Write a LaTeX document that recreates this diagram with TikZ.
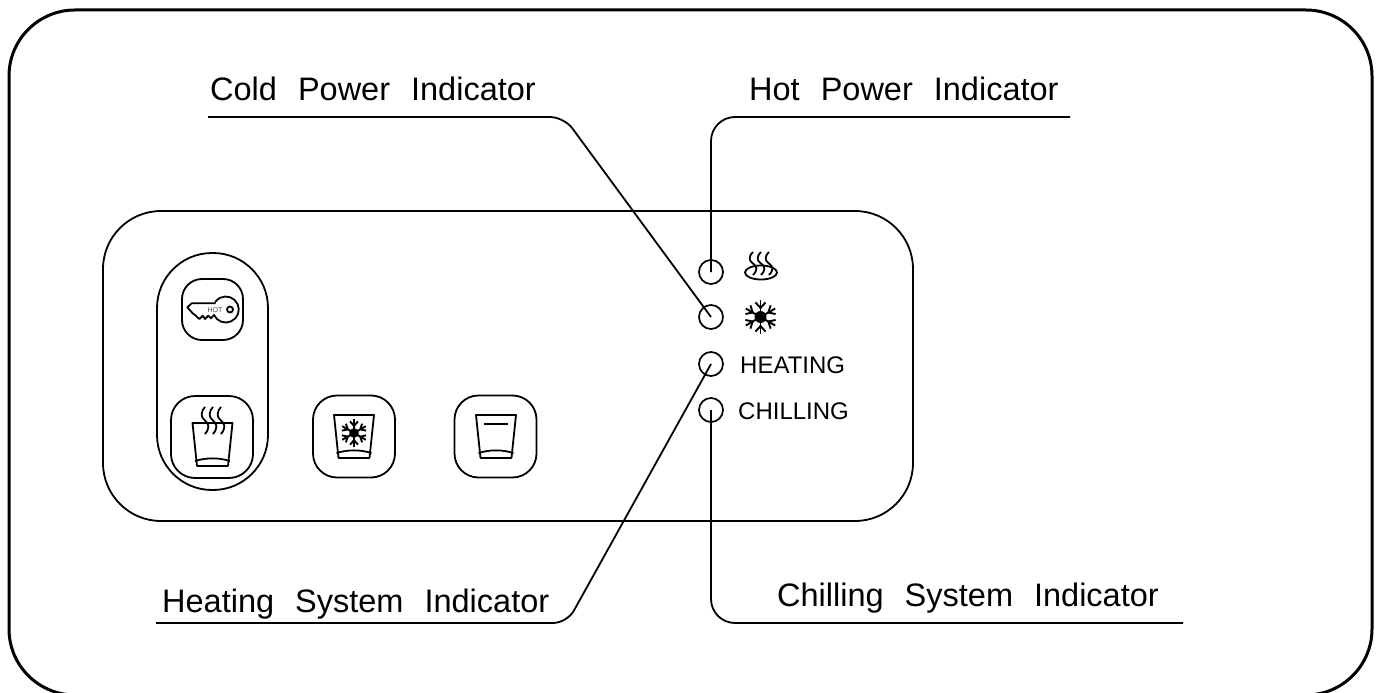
\documentclass[tikz,border=0pt]{standalone}
\usepackage{fontspec}
\setmainfont{Liberation Sans}
\usepackage{tikz}

% Wide gap between the words of a label
\newcommand{\wgap}{\hspace{21pt}}
% Steam wave: x, y of the top, height
\newcommand{\steamline}[3]{
    \draw[thinstroke] (#1,#2) .. controls ({#1-5},{#2+0.22*#3}) and ({#1-4},{#2+0.38*#3}) .. ({#1},{#2+0.5*#3})
        .. controls ({#1+4},{#2+0.62*#3}) and ({#1+5},{#2+0.78*#3}) .. ({#1},{#2+#3});
}
% Glass: centre x, top y, bottom y
\newcommand{\glassicon}[3]{
    \draw[thinstroke] ({#1-20},#2) -- ({#1+20},#2) -- ({#1+15.5},#3) -- ({#1-15.5},#3) -- cycle;
    \draw[thinstroke] ({#1-17.5},{#3-5}) .. controls ({#1-6},{#3-8.5}) and ({#1+6},{#3-8.5}) .. ({#1+17.5},{#3-5});
}
% Snowflake: centre x, centre y, scale
\newcommand{\flakeicon}[3]{
    \begin{scope}[shift={(#1,#2)},scale=#3]
        \fill (0,0) circle (6);
        \foreach \ang in {30,90,...,330} {
            \draw[flakestroke] (0,0) -- (\ang:17);
            \draw[flakestroke] (\ang:9) -- ++(\ang+42:7.5);
            \draw[flakestroke] (\ang:9) -- ++(\ang-42:7.5);
        }
    \end{scope}
}

\begin{document}
\begin{tikzpicture}[x=1pt,y=-1pt,line join=round,
    stroke/.style={line width=1.8pt},
    thinstroke/.style={line width=1.8pt},
    flakestroke/.style={line width=1.9pt},
    led/.style={circle,draw,line width=1.7pt,minimum size=24pt,inner sep=0pt},
    button/.style={draw,line width=1.8pt,rounded corners=24pt,minimum size=82pt,inner sep=0pt},
    bigtext/.style={anchor=base west,inner sep=0pt,font=\fontsize{32.5}{38}\selectfont},
    ledtext/.style={anchor=base west,inner sep=0pt,font=\fontsize{24}{28}\selectfont}]
    \clip[use as bounding box] (0,0) rectangle (1379,693);

    % Frame and panel
    \node[draw,line width=3pt,rounded corners=66pt,minimum width=1363pt,minimum height=685pt,inner sep=0pt] (frame) at (690.5,352.5) {};
    \node[draw,stroke,rounded corners=58pt,minimum width=810pt,minimum height=310pt,inner sep=0pt] (panel) at (508,366) {};
    \node[draw,stroke,rounded corners=55pt,minimum width=111pt,minimum height=237pt,inner sep=0pt] (group) at (212.5,371.5) {};

    % Buttons
    \node[button,minimum size=61pt,rounded corners=20pt] (keybtn) at (212.5,309.5) {};
    \node[button] (hotbtn) at (212,437) {};
    \node[button] (coldbtn) at (354,436.5) {};
    \node[button] (waterbtn) at (495.5,436.5) {};

    % Key
    \draw[thinstroke] (215.7,303.3) -- (191.7,303.3) -- (187.3,307.3) -- (192.7,313.3) -- (195,315) -- (199.3,319)
        -- (202.7,315.7) -- (205,319) -- (208.3,315.7) -- (211,318.3) -- (214,315)
        arc[start angle=155,end angle=-145,radius=13];
    \draw[line width=1.8pt] (230,309.5) circle (3);
    \node[inner sep=0pt,text=black!70,font=\fontsize{7}{8}\selectfont] (keytext) at (215,310) {HOT};

    % Glasses
    \glassicon{212.5}{423}{466}
    \foreach \sx in {205,213,221} {
        \steamline{\sx}{407}{27}
    }
    \glassicon{354}{415}{458}
    \flakeicon{354}{433}{0.8}
    \glassicon{496}{415}{458}
    \draw[thinstroke] (484,424) -- (508,424);

    % Indicators
    \node[led] (ledHot) at (711,272) {};
    \node[led] (ledCold) at (711,317) {};
    \node[led] (ledHeat) at (711,364) {};
    \node[led] (ledChill) at (711,410) {};

    % Indicator symbols
    \draw[thinstroke] (761,272.5) ellipse (16 and 7);
    \foreach \sx in {753,761,769} {
        \steamline{\sx}{252}{23}
    }
    \flakeicon{760.5}{317}{1}
    \node[ledtext] (textHeat) at (740,373) {HEATING};
    \node[ledtext] (textChill) at (738,419) {CHILLING};

    % Labels
    \node[bigtext] (labelCold) at (210,100) {Cold\wgap Power\wgap Indicator};
    \node[bigtext] (labelHot) at (749,100) {Hot\wgap Power\wgap Indicator};
    \node[bigtext] (labelHeat) at (162,612) {Heating\wgap System\wgap Indicator};
    \node[bigtext] (labelChill) at (777,606) {Chilling\wgap System\wgap Indicator};

    % Leader lines
    \coordinate (startCold) at (208,117);
    \coordinate (bendCold) at (564,117);
    \coordinate (startHot) at (1070,117);
    \coordinate (bendHot) at (711,117);
    \coordinate (startHeat) at (156,623);
    \coordinate (bendHeat) at (567,623);
    \coordinate (startChill) at (1183,623);
    \coordinate (bendChill) at (711,623);
    \draw[thinstroke,rounded corners=14pt] (startCold) -- (bendCold) -- (ledCold.center);
    \draw[thinstroke,rounded corners=24pt] (startHot) -- (bendHot) -- (ledHot.center);
    \draw[thinstroke,rounded corners=14pt] (startHeat) -- (bendHeat) -- (ledHeat.center);
    \draw[thinstroke,rounded corners=24pt] (startChill) -- (bendChill) -- (ledChill.center);
\end{tikzpicture}
\end{document}
